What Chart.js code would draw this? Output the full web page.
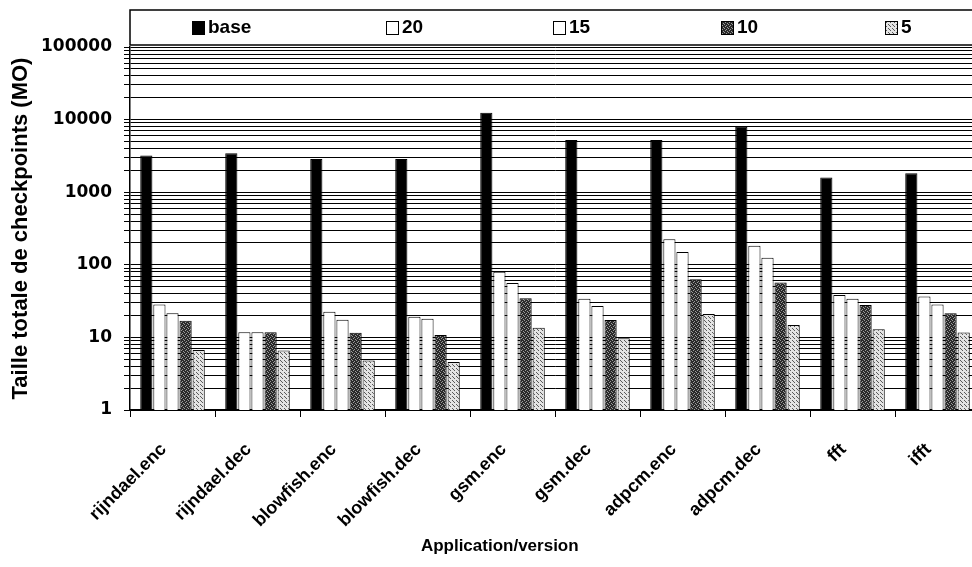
<!DOCTYPE html>
<html>
<head>
<meta charset="utf-8">
<script src="https://cdn.jsdelivr.net/npm/chart.js@4/dist/chart.umd.min.js"></script>
<style>
  html, body { margin: 0; padding: 0; background: #fff; overflow: hidden; }
  #wrap { width: 972px; height: 567px; overflow: hidden; }
</style>
</head>
<body>
<div id="wrap">
  <canvas id="chart" width="982" height="567"></canvas>
</div>
<script>
const categories = ["rijndael.enc", "rijndael.dec", "blowfish.enc", "blowfish.dec", "gsm.enc",
  "gsm.dec", "adpcm.enc", "adpcm.dec", "fft", "ifft"];

const seriesLabels = ["base", "20", "15", "10", "5"];

const baseValues = [3200, 3450, 2870, 2870, 12400, 5250, 5250, 8000, 1600, 1820];
const values20 = [28.5, 11.8, 22.5, 19.3, 80, 34, 224, 183, 38.5, 36.5];
const values15 = [21.5, 11.8, 17.5, 18, 56, 27, 150, 125, 34, 28.5];
const values10 = [17, 11.8, 11.6, 10.8, 34.5, 17.4, 63, 57, 28, 21.5];
const values5 = [6.7, 6.6, 4.8, 4.6, 13.6, 9.7, 21, 14.8, 12.9, 11.7];

// log grid: 1..9 in every decade, then the top line
const decades = [1, 10, 100, 1000, 10000];
const multipliers = [1, 2, 3, 4, 5, 6, 7, 8, 9];
const gridValues = [];
decades.forEach(d => multipliers.forEach(m => gridValues.push(d * m)));
gridValues.push(100000);

const xTitle = "Application/version";
const yTitle = "Taille totale de checkpoints (MO)";

function makePattern(bg, fg, dots) {
  const c = document.createElement("canvas");
  c.width = 4;
  c.height = 4;
  const g = c.getContext("2d");
  g.fillStyle = bg;
  g.fillRect(0, 0, 4, 4);
  g.fillStyle = fg;
  dots.forEach(p => g.fillRect(p[0], p[1], 1, 1));
  return g.createPattern(c, "repeat");
}

const darkDots = makePattern("#2a2a2a", "#9a9a9a", [[0, 0], [2, 1], [1, 2], [3, 3]]);
const lightDots = makePattern("#e4e4e4", "#5a5a5a", [[0, 0], [2, 2], [1, 1]]);

const fills = ["#000000", "#ffffff", "#ffffff", darkDots, lightDots];
const seriesValues = [baseValues, values20, values15, values10, values5];

const legendBox = {
  id: "legendBox",
  afterDraw(chart) {
    const ctx = chart.ctx;
    const area = chart.chartArea;
    const offsets = [62, 256, 423, 591, 755];
    ctx.save();
    ctx.strokeStyle = "#000";
    ctx.lineWidth = 1.5;
    ctx.fillStyle = "#fff";
    ctx.fillRect(area.left, 10, chart.width - area.left + 5, 35);
    ctx.strokeRect(area.left, 10, chart.width - area.left + 5, 35);
    ctx.font = "bold 19px 'Liberation Sans', Arial, sans-serif";
    ctx.textBaseline = "middle";
    seriesLabels.forEach((label, i) => {
      const x = area.left + offsets[i];
      ctx.fillStyle = fills[i];
      ctx.fillRect(x, 21, 12, 13);
      ctx.lineWidth = 1;
      ctx.strokeRect(x + 0.5, 21.5, 12, 13);
      ctx.fillStyle = "#000";
      ctx.fillText(label, x + 16, 28);
    });
    // x axis title, sits left of the plot centre as in the original
    ctx.textAlign = "center";
    ctx.font = "bold 17px 'Liberation Sans', Arial, sans-serif";
    ctx.fillText(xTitle, area.left + (area.right - area.left) * 0.435, 546);
    ctx.restore();
  },
};

new Chart(document.getElementById("chart"), {
  type: "bar",
  data: {
    labels: categories,
    datasets: seriesLabels.map((label, i) => ({
      label,
      data: seriesValues[i],
      backgroundColor: fills[i],
      borderColor: "#000",
      borderWidth: 1,
      categoryPercentage: 0.77,
      barPercentage: 0.93,
    })),
  },
  options: {
    responsive: false,
    animation: false,
    devicePixelRatio: 1,
    layout: {padding: {top: 47, right: 2, left: 0, bottom: 0}},
    plugins: {
      legend: {display: false},
      tooltip: {enabled: false},
    },
    scales: {
      x: {
        grid: {display: true, drawOnChartArea: false, drawTicks: true, tickLength: 7, color: "#000", offset: true},
        border: {color: "#000", width: 1.5},
        ticks: {
          color: "#000",
          font: {family: "'Liberation Sans', Arial, sans-serif", size: 18, weight: "bold"},
          minRotation: 45,
          maxRotation: 45,
          padding: 22,
          labelOffset: -9,
          autoSkip: false,
        },
        afterFit(scale) {
          scale.height = 157;
        },
      },
      y: {
        type: "logarithmic",
        min: 1,
        max: 100000,
        afterBuildTicks(scale) {
          scale.ticks = gridValues.map(v => ({value: v}));
        },
        afterFit(scale) {
          scale.width = 130;
        },
        grid: {color: "#000", lineWidth: 1, tickLength: 6},
        border: {color: "#000", width: 1.5},
        ticks: {
          autoSkip: false,
          color: "#000",
          padding: 12,
          font: {family: "'DejaVu Sans', sans-serif", size: 17, weight: "bold"},
          callback(value) {
            const p = Math.log10(value);
            return Math.abs(p - Math.round(p)) < 1e-9 ? String(value) : "";
          },
        },
        title: {
          display: true,
          text: yTitle,
          color: "#000",
          padding: {top: 8, bottom: 0},
          font: {family: "'Liberation Sans', Arial, sans-serif", size: 22, weight: "bold"},
        },
      },
    },
  },
  plugins: [legendBox],
});
</script>
</body>
</html>
